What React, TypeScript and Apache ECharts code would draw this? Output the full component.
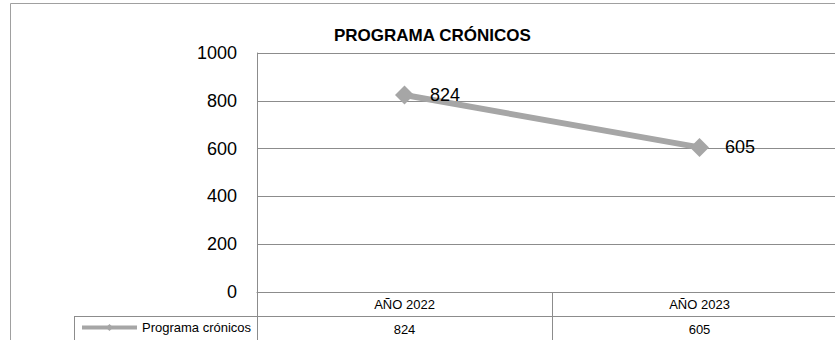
import React, { useEffect, useRef } from "react";
import * as echarts from "echarts";

const categories = ["AÑO 2022", "AÑO 2023"];
const seriesName = "Programa crónicos";
const values = [824, 605];
const titleText = "PROGRAMA CRÓNICOS";
const yMin = 0;
const yMax = 1000;
const yInterval = 200;

const FONT = "'Liberation Sans', Arial, sans-serif";
const GRID = "#8c8c8c";
const LINE = "#a6a6a6";

export default function App() {
  const ref = useRef<HTMLDivElement>(null);
  useEffect(() => {
    if (!ref.current) return;
    const chart = echarts.init(ref.current, null, { renderer: "svg" });
    chart.setOption({
      animation: false,
      backgroundColor: "#ffffff",
      title: {
        text: titleText,
        left: 329,
        top: 22,
        padding: 5,
        textStyle: { fontFamily: FONT, fontWeight: "bold", fontSize: 17, color: "#000" },
      },
      legend: {
        left: 80,
        top: 321,
        padding: 0,
        itemWidth: 55,
        itemHeight: 9,
        itemGap: 5,
        data: [seriesName],
        lineStyle: { width: 4, color: LINE },
        textStyle: { fontFamily: FONT, fontSize: 13, color: "#000", padding: [0, 0, 0, 0] },
      },
      grid: { left: 257, top: 53, width: 590, height: 239, containLabel: false, outerBoundsMode: "none" },
      xAxis: [
        {
          type: "category",
          data: categories,
          boundaryGap: true,
          axisLine: { show: true, lineStyle: { color: GRID, width: 1 } },
          axisTick: { show: true, alignWithLabel: false, length: 48, lineStyle: { color: GRID, width: 1 } },
          axisLabel: { fontFamily: FONT, fontSize: 13, color: "#000", margin: 6 },
        },
        {
          type: "category",
          position: "bottom",
          offset: 24,
          data: values.map((v) => String(v)),
          boundaryGap: true,
          axisLine: { show: false },
          axisTick: { show: false },
          axisLabel: { fontFamily: FONT, fontSize: 13, color: "#000", margin: 7 },
        },
      ],
      yAxis: {
        type: "value",
        min: yMin,
        max: yMax,
        interval: yInterval,
        axisLine: { show: true, lineStyle: { color: GRID, width: 1 } },
        axisTick: { show: false },
        splitLine: { show: true, lineStyle: { color: GRID, width: 1 } },
        axisLabel: {
          fontFamily: FONT,
          fontSize: 18,
          color: "#000",
          margin: 20,
          formatter: (v: number) => String(v),
        },
      },
      series: [
        {
          name: seriesName,
          type: "line",
          data: values,
          symbol: "diamond",
          symbolSize: 19,
          lineStyle: { color: LINE, width: 6 },
          itemStyle: { color: LINE },
          label: {
            show: true,
            position: "right",
            distance: 16,
            fontFamily: FONT,
            fontSize: 18,
            color: "#000",
          },
        },
      ],
      graphic: [
        {
          type: "rect",
          shape: { x: 10.5, y: 3.5, width: 900, height: 400 },
          style: { fill: "none", stroke: "#a0a0a0", lineWidth: 1 },
          silent: true,
        },
        {
          type: "line",
          shape: { x1: 74, y1: 316.5, x2: 900, y2: 316.5 },
          style: { stroke: GRID, lineWidth: 1 },
          silent: true,
        },
        {
          type: "line",
          shape: { x1: 74.5, y1: 316.5, x2: 74.5, y2: 345 },
          style: { stroke: GRID, lineWidth: 1 },
          silent: true,
        },
      ],
    });
    return () => chart.dispose();
  }, []);
  return (
    <div
      ref={ref}
      style={{ position: "fixed", left: 0, top: 0, width: 835, height: 340 }}
    />
  );
}
